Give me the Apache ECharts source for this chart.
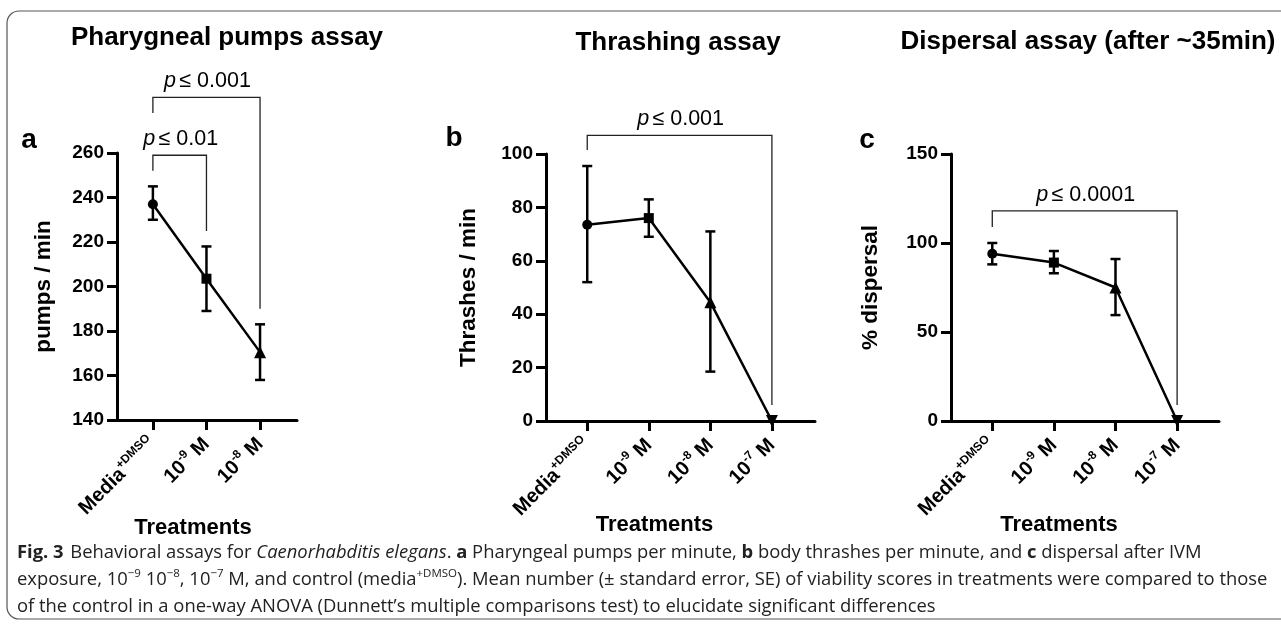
<!DOCTYPE html>
<html><head><meta charset="utf-8">
<script src="https://cdn.jsdelivr.net/npm/echarts@6/dist/echarts.min.js"></script>
<style>html,body{margin:0;padding:0;background:#fff}#c{width:1281px;height:626px}</style>
</head><body><div id="c"></div>
<script>
// ---- data ----
const categoriesA = ['Media{+DMSO}', '10{-9} M', '10{-8} M'];
const categoriesBC = ['Media{+DMSO}', '10{-9} M', '10{-8} M', '10{-7} M'];

const pumpsMean = [237, 203.5, 170.5];
const pumpsLow  = [230, 189, 158];
const pumpsHigh = [245, 218, 183];

const thrashMean = [73.5, 76, 44.5, 0];
const thrashLow  = [52, 69, 18.5, null];
const thrashHigh = [95.5, 83, 71, null];

const dispMean = [94, 89, 75, 0];
const dispLow  = [88, 83, 59.5, null];
const dispHigh = [100, 95.5, 91, null];

// brackets: [fromIndex, toIndex, topValue, leftLegEnd, rightLegEnd]
const bracketsA = [[0, 2, 285, 278, 190], [0, 1, 259, 252, 225]];
const bracketLabelsA = ['0.001', '0.01'];
const bracketsB = [[0, 3, 107, 101.5, 6]];
const bracketLabelsB = ['0.001'];
const bracketsC = [[0, 3, 118, 109, 9]];
const bracketLabelsC = ['0.0001'];

const yTicksA = [140, 260, 20];
const yTicksB = [0, 100, 20];
const yTicksC = [0, 150, 50];

const titles = ['Pharygneal pumps assay', 'Thrashing assay', 'Dispersal assay (after ~35min)'];
const yNames = ['pumps / min', 'Thrashes / min', '% dispersal'];
const xName = 'Treatments';
const panelLetters = ['a', 'b', 'c'];

// ---- styling ----
const F = 'Liberation Sans, Arial, sans-serif';
const CF = 'Open Sans, sans-serif';
const shapes = ['circle', 'rect', 'triangle', 'triangle'];
const shapeRot = [0, 0, 0, 180];
const shapeSize = [10, 10, 12, 12];

function catFmt(s) {
  const p = s.split(/[{}]/);
  let out = '{b|' + p[0] + '}{s|' + p[1] + '}';
  if (p[2]) out += '{b|' + p[2] + '}';
  return out;
}

const grids = [
  {left: 117, top: 153, width: 180, height: 267},
  {left: 546, top: 154, width: 269, height: 267},
  {left: 951, top: 154, width: 268, height: 267}
];

function yAx(gi, ticks, name, gap) {
  return {
    type: 'value', gridIndex: gi, min: ticks[0], max: ticks[1], interval: ticks[2],
    name: name, nameLocation: 'middle', nameGap: gap, nameRotate: 90, nameMoveOverlap: false,
    nameTextStyle: {fontFamily: F, fontWeight: 'bold', fontSize: 22.5, color: '#000'},
    axisLine: {show: true, onZero: false, lineStyle: {color: '#000', width: 3}},
    axisTick: {show: true, length: 10, lineStyle: {color: '#000', width: 3}},
    axisLabel: {fontFamily: F, fontWeight: 'bold', fontSize: 19, color: '#000', margin: 13},
    splitLine: {show: false}
  };
}

function xAx(gi, max, cats, nameGap, shift) {
  const vals = cats.map((_, i) => i);
  return {
    type: 'value', gridIndex: gi, min: -0.67, max: max,
    name: xName, nameLocation: 'middle', nameGap: nameGap, nameMoveOverlap: false,
    nameTextStyle: {fontFamily: F, fontWeight: 'bold', fontSize: 22, color: '#000', padding: [0, shift, 0, 0]},
    axisLine: {show: true, onZero: false, lineStyle: {color: '#000', width: 3}},
    axisTick: {show: true, length: 10, customValues: vals, lineStyle: {color: '#000', width: 3}},
    axisLabel: {
      customValues: vals, rotate: 45, margin: 21, hideOverlap: false,
      formatter: v => catFmt(cats[Math.round(v)]),
      rich: {
        b: {fontFamily: F, fontWeight: 'bold', fontSize: 20, color: '#000', lineHeight: 22, verticalAlign: 'middle'},
        s: {fontFamily: F, fontWeight: 'bold', fontSize: 12, color: '#000', lineHeight: 13, padding: [0, 0, 13, 0], verticalAlign: 'middle'}
      }
    },
    splitLine: {show: false}
  };
}

function lineSeries(gi, means) {
  return {
    type: 'line', xAxisIndex: gi, yAxisIndex: gi, z: 5, animation: false,
    data: means.map((v, i) => ({value: [i, v], symbol: shapes[i], symbolRotate: shapeRot[i], symbolSize: shapeSize[i]})),
    lineStyle: {color: '#000', width: 2.5}, itemStyle: {color: '#000'}
  };
}

function errRender(params, api) {
  const x = api.value(0), lo = api.value(1), hi = api.value(2);
  const a = api.coord([x, lo]), b = api.coord([x, hi]);
  const hw = 5, st = {stroke: '#000', lineWidth: 2.5};
  return {type: 'group', children: [
    {type: 'line', shape: {x1: a[0], y1: a[1], x2: b[0], y2: b[1]}, style: st},
    {type: 'line', shape: {x1: a[0] - hw, y1: a[1], x2: a[0] + hw, y2: a[1]}, style: st},
    {type: 'line', shape: {x1: b[0] - hw, y1: b[1], x2: b[0] + hw, y2: b[1]}, style: st}
  ]};
}

function errSeries(gi, low, high) {
  const data = [];
  low.forEach((l, i) => { if (l !== null) data.push([i, l, high[i]]); });
  return {type: 'custom', xAxisIndex: gi, yAxisIndex: gi, renderItem: errRender, data: data, z: 4, animation: false, clip: false};
}

function bracketSeries(gi, brackets, labels) {
  return {
    type: 'custom', xAxisIndex: gi, yAxisIndex: gi, animation: false, clip: false, z: 3,
    data: brackets,
    renderItem: function (params, api) {
      const x1 = api.value(0), x2 = api.value(1), top = api.value(2), l = api.value(3), r = api.value(4);
      const p1 = api.coord([x1, l]), p2 = api.coord([x1, top]), p3 = api.coord([x2, top]), p4 = api.coord([x2, r]);
      const lab = labels[params.dataIndex];
      return {type: 'group', children: [
        {type: 'polyline', shape: {points: [p1, p2, p3, p4]}, style: {stroke: '#222', lineWidth: 1.3, fill: null}},
        {type: 'text', x: (p2[0] + p3[0]) / 2 + 1, y: p2[1] - 16, style: {
          text: '{i|p} {n|≤ ' + lab + '}', align: 'center', verticalAlign: 'middle',
          rich: {
            i: {fontFamily: F, fontStyle: 'italic', fontSize: 21.5, fill: '#000'},
            n: {fontFamily: F, fontSize: 21.5, fill: '#000'}
          }
        }}
      ]};
    }
  };
}

const caption =
  '{fb|Fig. 3}  {n|Behavioral assays for }{i|Caenorhabditis elegans}{n|. }{fb|a}{n| Pharyngeal pumps per minute, }{fb|b}{n| body thrashes per minute, and }{fb|c}{n| dispersal after IVM}\n' +
  '{n|exposure, 10}{s|−9}{n| 10}{s|−8}{n|, 10}{s|−7}{n| M, and control (media}{s|+DMSO}{n|). Mean number (± standard error, SE) of viability scores in treatments were compared to those}\n' +
  '{n|of the control in a one-way ANOVA (Dunnett’s multiple comparisons test) to elucidate significant differences}';

const CS = 18.4;
const chart = echarts.init(document.getElementById('c'), null, {renderer: 'canvas'});
chart.setOption({
  animation: false,
  backgroundColor: '#fff',
  grid: grids,
  xAxis: [xAx(0, 2.69, categoriesA, 97, 28), xAx(1, 3.7, categoriesBC, 93, 52), xAx(2, 3.68, categoriesBC, 93, 52)],
  yAxis: [yAx(0, yTicksA, yNames[0], 62), yAx(1, yTicksB, yNames[1], 66), yAx(2, yTicksC, yNames[2], 69)],
  series: [
    bracketSeries(0, bracketsA, bracketLabelsA), errSeries(0, pumpsLow, pumpsHigh), lineSeries(0, pumpsMean),
    bracketSeries(1, bracketsB, bracketLabelsB), errSeries(1, thrashLow, thrashHigh), lineSeries(1, thrashMean),
    bracketSeries(2, bracketsC, bracketLabelsC), errSeries(2, dispLow, dispHigh), lineSeries(2, dispMean)
  ],
  graphic: [
    {type: 'rect', shape: {x: 7, y: 11, width: 1300, height: 608, r: 12}, style: {stroke: '#555', lineWidth: 1.2, fill: null}, silent: true},
    {type: 'text', x: 227, y: 38, style: {text: titles[0], font: 'bold 26px ' + F, fill: '#000', align: 'center', verticalAlign: 'middle'}},
    {type: 'text', x: 678, y: 43, style: {text: titles[1], font: 'bold 26px ' + F, fill: '#000', align: 'center', verticalAlign: 'middle'}},
    {type: 'text', x: 1088, y: 42, style: {text: titles[2], font: 'bold 26px ' + F, fill: '#000', align: 'center', verticalAlign: 'middle'}},
    {type: 'text', x: 29, y: 140, style: {text: panelLetters[0], font: 'bold 28px ' + F, fill: '#000', align: 'center', verticalAlign: 'middle'}},
    {type: 'text', x: 454, y: 138, style: {text: panelLetters[1], font: 'bold 28px ' + F, fill: '#000', align: 'center', verticalAlign: 'middle'}},
    {type: 'text', x: 867, y: 140, style: {text: panelLetters[2], font: 'bold 28px ' + F, fill: '#000', align: 'center', verticalAlign: 'middle'}},
    {type: 'text', x: 17, y: 539, style: {
      text: caption, align: 'left', verticalAlign: 'top',
      rich: {
        n: {fontFamily: CF, fontSize: CS, fill: '#222', lineHeight: 27, verticalAlign: 'middle'},
        i: {fontFamily: CF, fontStyle: 'italic', fontSize: CS, fill: '#222', lineHeight: 27, verticalAlign: 'middle'},
        fb: {fontFamily: CF, fontWeight: 'bold', fontSize: CS, fill: '#222', lineHeight: 27, verticalAlign: 'middle'},
        s: {fontFamily: CF, fontSize: 11.5, fill: '#222', lineHeight: 13, padding: [0, 0, 11, 0], verticalAlign: 'middle'}
      }
    }}
  ]
});
</script>
</body></html>
